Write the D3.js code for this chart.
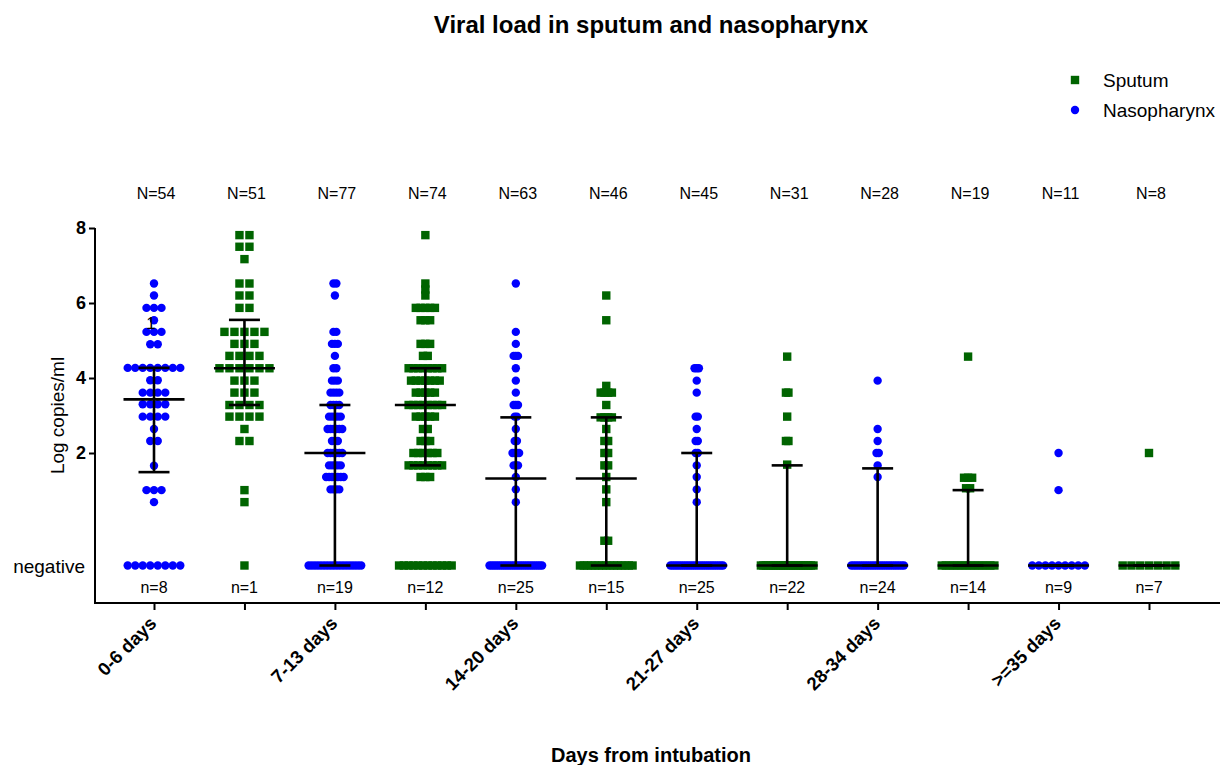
<!DOCTYPE html>
<html><head><meta charset="utf-8">
<script src="https://cdn.jsdelivr.net/npm/d3@7/dist/d3.min.js"></script>
<style>
body{margin:0;background:#fff;}
svg{display:block;font-family:Arial,"Liberation Sans",sans-serif;}
</style>
</head><body>
<svg id="chart" width="1220" height="765"></svg>
<script>
// ---------------- data ----------------
const specimens = ["Nasopharynx","Sputum","Nasopharynx","Sputum","Nasopharynx","Sputum",
                   "Nasopharynx","Sputum","Nasopharynx","Sputum","Nasopharynx","Sputum"];
const groupLabels = ["0-6 days","7-13 days","14-20 days","21-27 days","28-34 days",">=35 days"];
const totalN    = [54,51,77,74,63,46,45,31,28,19,11,8];
const negativeN = [8,1,19,12,25,15,25,22,24,14,9,7];
const medians   = [3.43,4.26,2.0,3.28,1.32,1.32,-1,-1,-1,-1,-1,-1];
const q1        = [1.49,3.28,-1,1.67,-1,-1,-1,-1,-1,-1,-1,-1];
const q3        = [4.27,5.55,3.28,4.26,2.95,2.95,2.0,1.67,1.59,1.01,-1,-1];
const yTicks = [2,4,6,8];
const NEGATIVE = -1;           // axis level used for "negative" samples

// positive samples: [log copies/ml, number of samples at that level]
const naso0_6   = [[6.52,1],[6.2,1],[5.87,3],[5.54,1],[5.23,3],[4.9,2],[4.27,8],[3.94,2],[3.61,4],[3.3,4],[2.97,4],[2.64,1],[2.32,2],[1.66,1],[1.01,3],[0.69,1]];
const sput0_6   = [[7.81,2],[7.5,2],[7.17,1],[6.52,2],[6.2,2],[5.87,2],[5.23,5],[4.91,3],[4.59,4],[4.26,6],[3.93,3],[3.61,3],[3.28,4],[2.97,4],[2.64,1],[2.32,2],[1.01,1],[0.69,1]];
const naso7_13  = [[6.52,2],[6.2,1],[5.23,2],[4.91,3],[4.59,1],[4.26,2],[3.93,3],[3.61,4],[3.28,4],[2.97,5],[2.64,6],[2.32,3],[2.0,6],[1.67,5],[1.36,7],[1.03,4]];
const sput7_13  = [[7.81,1],[6.52,1],[6.36,1],[6.2,1],[5.87,5],[5.54,3],[4.91,3],[4.59,2],[4.26,8],[3.93,7],[3.61,5],[3.28,8],[2.97,5],[2.64,2],[2.32,3],[2.0,6],[1.67,8],[1.36,3]];
const naso14_20 = [[6.52,1],[5.23,1],[4.91,1],[4.59,3],[4.26,1],[3.93,1],[3.61,1],[3.28,3],[2.97,2],[2.64,1],[2.32,2],[2.0,4],[1.67,3],[1.36,1],[1.03,1],[0.69,1]];
const sput14_20 = [[6.2,1],[5.54,1],[3.79,1],[3.61,4],[3.28,1],[2.95,4],[2.64,1],[2.32,2],[2.0,2],[1.67,2],[1.36,1],[1.03,1],[0.69,1],[-0.34,2]];
const naso21_27 = [[4.26,3],[3.93,1],[3.61,1],[2.97,2],[2.64,1],[2.32,2],[2.0,2],[1.67,1],[1.36,1],[1.03,1],[0.69,1]];
const sput21_27 = [[4.57,1],[3.61,2],[2.97,1],[2.32,2],[1.69,1]];
const naso28_34 = [[3.93,1],[2.64,1],[2.32,1],[2.0,2],[1.67,1],[1.36,1]];
const sput28_34 = [[4.57,1],[1.34,3],[1.06,2]];
const naso35    = [[2.0,1],[1.01,1]];
const sput35    = [[2.0,1]];
const positives = [naso0_6,sput0_6,naso7_13,sput7_13,naso14_20,sput14_20,
                   naso21_27,sput21_27,naso28_34,sput28_34,naso35,sput35];

// ---------------- styles ----------------
const colors = {Nasopharynx:"#0000ff", Sputum:"#006400"};
const markSize = 8.4;
const maxRowWidth = 61;
const maxSpacing = {Nasopharynx:8, Sputum:10};

const svg = d3.select("#chart");
const idx = d3.range(specimens.length);
const x = d3.scalePoint().domain(idx).range([154,1149]);
const y = d3.scaleLinear().domain([-2,8]).range([603,228]);

// title
svg.append("text").attr("x",651).attr("y",33).attr("text-anchor","middle")
  .attr("font-size",24).attr("font-weight","bold").text("Viral load in sputum and nasopharynx");

// legend
const legend = [["Sputum",87],["Nasopharynx",117]];
legend.forEach(([name,ty])=>{
  const cy = ty-7;
  if(name==="Sputum"){
    svg.append("rect").attr("x",1075-markSize/2).attr("y",cy-markSize/2).attr("width",markSize).attr("height",markSize).attr("fill",colors.Sputum);
  } else {
    svg.append("circle").attr("cx",1075).attr("cy",cy).attr("r",markSize/2).attr("fill",colors.Nasopharynx);
  }
  svg.append("text").attr("x",1103).attr("y",ty).attr("font-size",19).text(name);
});

// points
idx.forEach(i=>{
  const sp = specimens[i];
  const rows = positives[i].map(d=>({v:d[0],n:d[1]})).concat([{v:NEGATIVE,n:negativeN[i]}]);
  const maxCount = d3.max(rows,r=>r.n);
  const s = maxCount>1 ? Math.min(maxSpacing[sp],(maxRowWidth-markSize)/(maxCount-1)) : 0;
  const pts = [];
  rows.forEach(r=>{ d3.range(r.n).forEach(k=>pts.push({v:r.v, dx:(k-(r.n-1)/2)*s})); });
  const g = svg.append("g");
  if(sp==="Nasopharynx"){
    g.selectAll("circle").data(pts).join("circle")
      .attr("cx",d=>x(i)+d.dx).attr("cy",d=>y(d.v)).attr("r",markSize/2).attr("fill",colors[sp]);
  } else {
    g.selectAll("rect").data(pts).join("rect")
      .attr("x",d=>x(i)+d.dx-markSize/2).attr("y",d=>y(d.v)-markSize/2)
      .attr("width",markSize).attr("height",markSize).attr("fill",colors[sp]);
  }
});

// median + interquartile range
const bars = svg.append("g").attr("stroke","#000").attr("stroke-width",2.6);
idx.forEach(i=>{
  const cx = x(i);
  if(q3[i]>q1[i]) bars.append("line").attr("x1",cx).attr("x2",cx).attr("y1",y(q1[i])).attr("y2",y(q3[i]));
  [q1[i],q3[i]].forEach(q=>bars.append("line").attr("x1",cx-15.5).attr("x2",cx+15.5).attr("y1",y(q)).attr("y2",y(q)));
  bars.append("line").attr("x1",cx-30.5).attr("x2",cx+30.5).attr("y1",y(medians[i])).attr("y2",y(medians[i]));
});

// stray label in reference
svg.append("text").attr("x",151).attr("y",329).attr("text-anchor","middle").attr("font-size",17).text("1");

// N and n labels
svg.append("g").selectAll("text").data(idx).join("text")
  .attr("x",i=>x(i)+2).attr("y",199).attr("text-anchor","middle").attr("font-size",16)
  .text(i=>"N="+totalN[i]);
svg.append("g").selectAll("text").data(idx).join("text")
  .attr("x",i=>x(i)).attr("y",593).attr("text-anchor","middle").attr("font-size",16)
  .text(i=>"n="+negativeN[i]);

// y axis
const yAxis = svg.append("g").attr("transform","translate(95,0)")
  .call(d3.axisLeft(y).tickValues(yTicks).tickSize(6).tickSizeOuter(0).tickFormat(d3.format("d")));
yAxis.select(".domain").remove();
yAxis.selectAll("line").attr("stroke","#000").attr("stroke-width",2);
yAxis.selectAll("text").attr("font-size",18).attr("font-weight","bold").attr("font-family","Arial,'Liberation Sans',sans-serif").attr("fill","#000").attr("x",-9);
svg.append("line").attr("x1",95).attr("x2",95).attr("y1",y(8)).attr("y2",y(-2)+1).attr("stroke","#000").attr("stroke-width",2);
svg.append("text").attr("x",85).attr("y",y(NEGATIVE)+7).attr("text-anchor","end").attr("font-size",19).text("negative");
svg.append("text").attr("transform",`translate(64,${y(3)}) rotate(-90)`).attr("text-anchor","middle")
  .attr("font-size",19).text("Log copies/ml");

// x axis
const xAxis = svg.append("g").attr("transform",`translate(0,${y(-2)})`)
  .call(d3.axisBottom(x).tickSize(7).tickSizeOuter(0).tickFormat(""));
xAxis.select(".domain").remove();
xAxis.selectAll("line").attr("stroke","#000").attr("stroke-width",2);
svg.append("line").attr("x1",94).attr("x2",1220).attr("y1",y(-2)).attr("y2",y(-2)).attr("stroke","#000").attr("stroke-width",2);
svg.append("g").selectAll("text").data(groupLabels).join("text")
  .attr("transform",(d,k)=>`translate(${x(k*2)-1},${620}) rotate(-45)`)
  .attr("text-anchor","end").attr("dy","0.35em").attr("font-size",18.5).attr("font-weight","bold").text(d=>d);
svg.append("text").attr("x",651).attr("y",762).attr("text-anchor","middle")
  .attr("font-size",20).attr("font-weight","bold").text("Days from intubation");
</script>
</body></html>
